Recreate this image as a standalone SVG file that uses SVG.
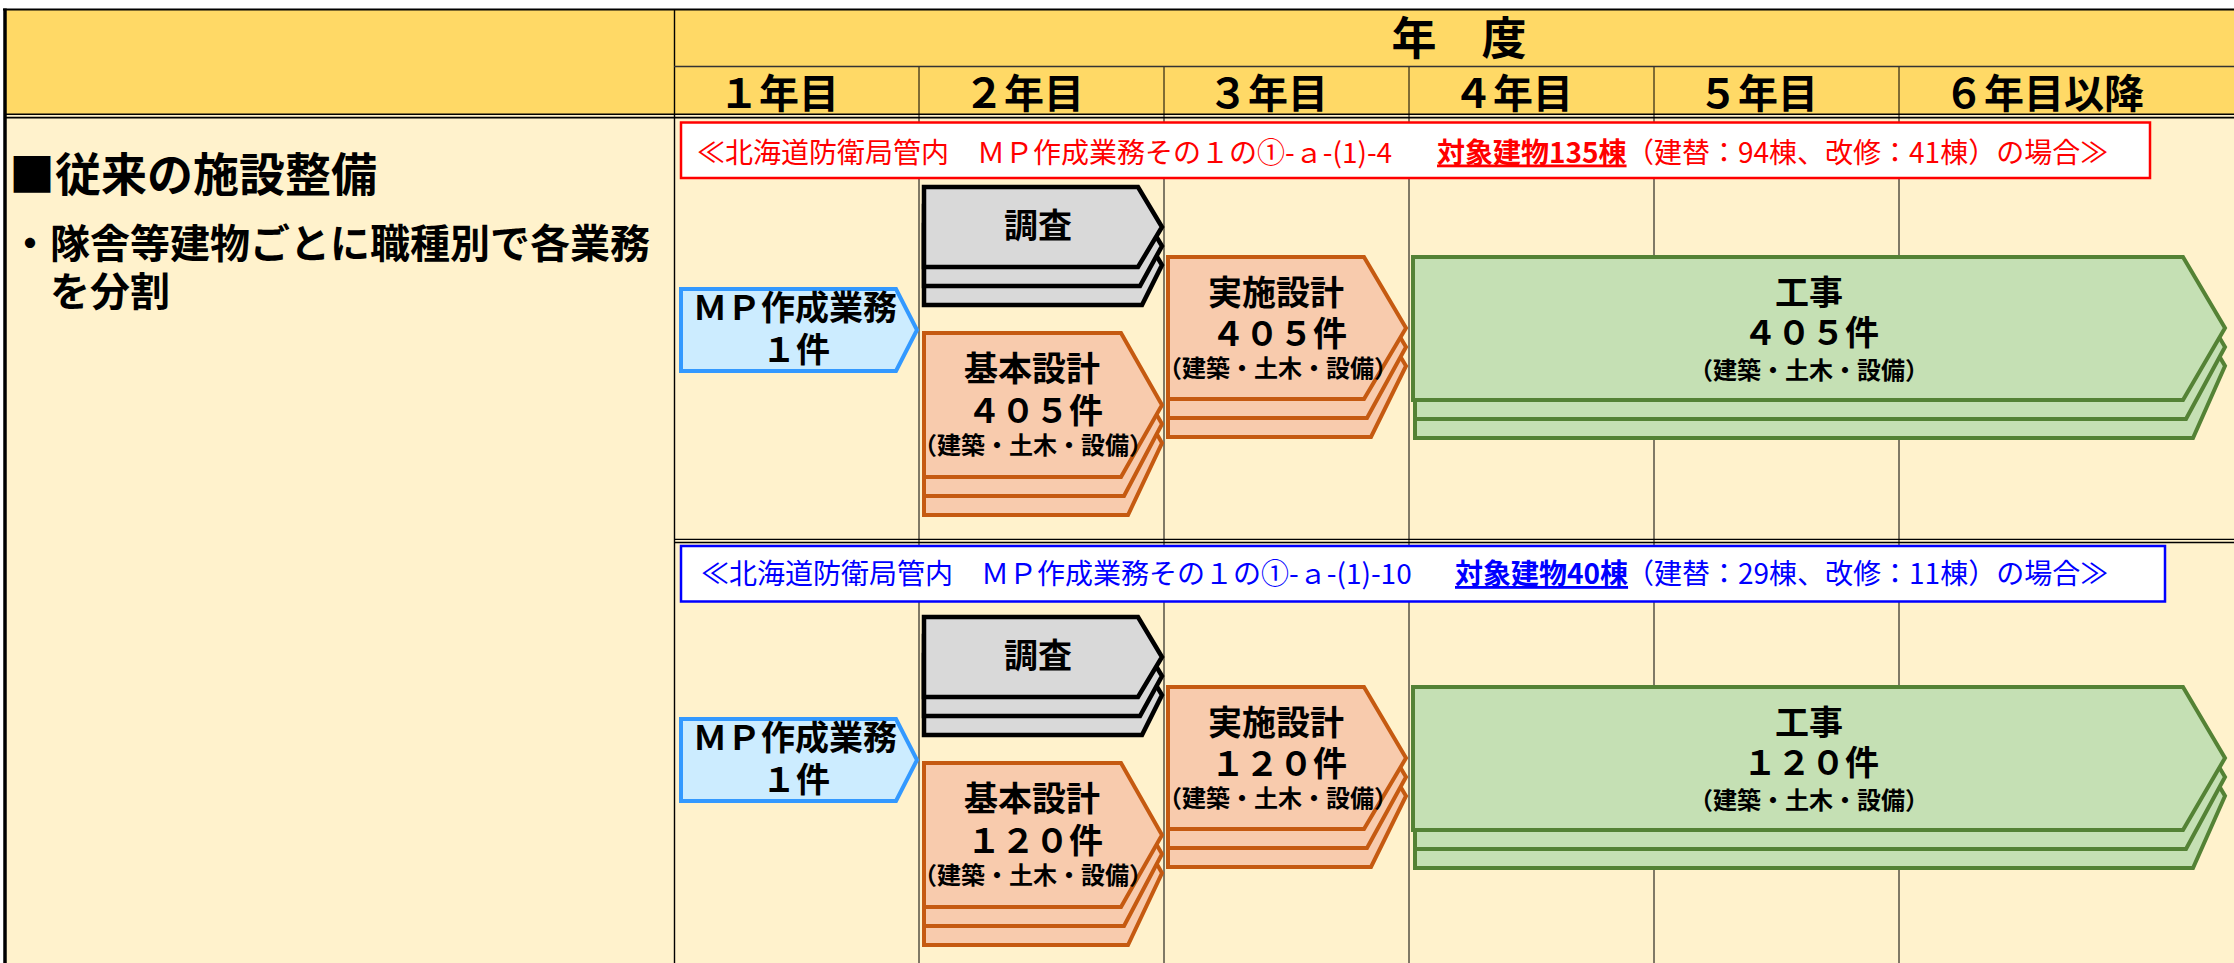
<svg xmlns="http://www.w3.org/2000/svg" width="2234" height="963" viewBox="0 0 2234 963">
<style>
.jp{font-family:"Noto Sans CJK JP","Noto Sans CJK SC",sans-serif;}
.b{font-weight:700;fill:#000;}
.lbl{font-size:34px;text-anchor:middle;}
.sub{font-size:24px;text-anchor:middle;}
.yr{font-size:40px;text-anchor:middle;}
.grid{stroke:#000;stroke-width:1;fill:none;}
.blue{fill:#CCECFF;stroke:#3399FF;stroke-width:4;stroke-linejoin:miter;}
.gray{fill:#D9D9D9;stroke:#000;stroke-width:4.5;}
.org{fill:#F8CBAD;stroke:#C55A11;stroke-width:4;}
.grn{fill:#C5E0B4;stroke:#548235;stroke-width:4;}
.note{font-size:28px;font-weight:400;}
</style>
<g id="background">
<rect x="5" y="10" width="2229" height="104" fill="#FFD966"/>
<rect x="5" y="114" width="2229" height="849" fill="#FFF2CC"/>
</g>
<g id="grid">
<line class="grid" x1="919" y1="66" x2="919" y2="963"/>
<line class="grid" x1="1164" y1="66" x2="1164" y2="963"/>
<line class="grid" x1="1409" y1="66" x2="1409" y2="963"/>
<line class="grid" x1="1654" y1="66" x2="1654" y2="963"/>
<line class="grid" x1="1899" y1="66" x2="1899" y2="963"/>
<line x1="674.5" y1="9" x2="674.5" y2="963" stroke="#000" stroke-width="1.4"/>
<line x1="674" y1="66.5" x2="2234" y2="66.5" stroke="#333" stroke-width="1.5"/>
<line x1="3" y1="9.5" x2="2234" y2="9.5" stroke="#000" stroke-width="2.2"/>
<line x1="5" y1="8.5" x2="5" y2="963" stroke="#000" stroke-width="3.5"/>
<line x1="5" y1="114.3" x2="2234" y2="114.3" stroke="#000" stroke-width="1.6"/>
<line x1="5" y1="117.6" x2="2234" y2="117.6" stroke="#000" stroke-width="1.6"/>
<line x1="674" y1="539.4" x2="2234" y2="539.4" stroke="#000" stroke-width="1.4"/>
<line x1="674" y1="542.5" x2="2234" y2="542.5" stroke="#000" stroke-width="1.4"/>
</g>
<g id="header">
<text class="jp b" x="1459" y="55" font-size="45" text-anchor="middle">年　度</text>
<text class="jp b yr" x="779" y="107.5">１年目</text>
<text class="jp b yr" x="1024" y="107.5">２年目</text>
<text class="jp b yr" x="1268" y="107.5">３年目</text>
<text class="jp b yr" x="1513" y="107.5">４年目</text>
<text class="jp b yr" x="1758" y="107.5">５年目</text>
<text class="jp b yr" x="2044" y="107.5">６年目以降</text>
</g>
<g id="left-panel">
<text class="jp b" x="9" y="190.8" font-size="46">■従来の施設整備</text>
<text class="jp b" x="10" y="257.7" font-size="40">・隊舎等建物ごとに職種別で各業務</text>
<text class="jp b" x="50" y="306" font-size="40">を分割</text>
</g>
<g id="case1-title">
<rect x="681" y="122.5" width="1469" height="55.5" fill="#FFFFFF" stroke="#FF0000" stroke-width="2.5"/>
<text class="jp note" y="162.5" fill="#FF0000"><tspan x="697">≪北海道防衛局管内　ＭＰ作成業務その１の①-ａ-(1)-4</tspan><tspan x="1437" font-weight="700" text-decoration="underline">対象建物135棟</tspan><tspan x="1626">（建替：94棟、改修：41棟）の場合≫</tspan></text>
</g>
<g id="case1-mp">
<polygon class="blue" points="681,289 896,289 917,330 896,371 681,371"/>
<text class="jp b lbl" x="795" y="320">ＭＰ作成業務</text>
<text class="jp b lbl" x="796" y="362">１件</text>
</g>
<g id="case1-survey">
<polygon class="gray" points="924,225 1138,225 1162,265 1142,305 924,305"/>
<polygon class="gray" points="924,206 1138,206 1162,246 1140,286 924,286"/>
<polygon class="gray" points="924,187 1138,187 1162,227 1138,267 924,267"/>
<text class="jp b lbl" x="1038" y="238">調査</text>
</g>
<g id="case1-basic">
<polygon class="org" points="924,371 1121,371 1162,443 1128,515 924,515"/>
<polygon class="org" points="924,352 1121,352 1162,424 1124,496 924,496"/>
<polygon class="org" points="924,333 1121,333 1162,405 1121,477 924,477"/>
<text class="jp b lbl" x="1032" y="381">基本設計</text>
<text class="jp b lbl" x="1035" y="423">４０５件</text>
<text class="jp b sub" x="1033" y="454">（建築・土木・設備）</text>
</g>
<g id="case1-detail">
<polygon class="org" points="1168,295 1364,295 1406,366 1371,437 1168,437"/>
<polygon class="org" points="1168,276 1364,276 1406,347 1367,418 1168,418"/>
<polygon class="org" points="1168,257 1364,257 1406,328 1364,399 1168,399"/>
<text class="jp b lbl" x="1276" y="305">実施設計</text>
<text class="jp b lbl" x="1279" y="346">４０５件</text>
<text class="jp b sub" x="1278" y="377">（建築・土木・設備）</text>
</g>
<g id="case1-construction">
<polygon class="grn" points="1415,295 2183,295 2225,366 2193,438 1415,438"/>
<polygon class="grn" points="1415,276 2183,276 2225,347 2186,419 1415,419"/>
<polygon class="grn" points="1413,257 2183,257 2225,328 2183,400 1413,400"/>
<text class="jp b lbl" x="1809" y="305">工事</text>
<text class="jp b lbl" x="1811" y="345">４０５件</text>
<text class="jp b sub" x="1809" y="379">（建築・土木・設備）</text>
</g>
<g id="case2-title">
<rect x="681" y="546" width="1484" height="55.5" fill="#FFFFFF" stroke="#0000FF" stroke-width="2.5"/>
<text class="jp note" y="584" fill="#0000FF"><tspan x="701">≪北海道防衛局管内　ＭＰ作成業務その１の①-ａ-(1)-10</tspan><tspan x="1455" font-weight="700" text-decoration="underline">対象建物40棟</tspan><tspan x="1626">（建替：29棟、改修：11棟）の場合≫</tspan></text>
</g>
<g id="case2-mp">
<polygon class="blue" points="681,719 896,719 917,760 896,801 681,801"/>
<text class="jp b lbl" x="795" y="750">ＭＰ作成業務</text>
<text class="jp b lbl" x="796" y="792">１件</text>
</g>
<g id="case2-survey">
<polygon class="gray" points="924,655 1138,655 1162,695 1142,735 924,735"/>
<polygon class="gray" points="924,636 1138,636 1162,676 1140,716 924,716"/>
<polygon class="gray" points="924,617 1138,617 1162,657 1138,697 924,697"/>
<text class="jp b lbl" x="1038" y="668">調査</text>
</g>
<g id="case2-basic">
<polygon class="org" points="924,801 1121,801 1162,873 1128,945 924,945"/>
<polygon class="org" points="924,782 1121,782 1162,854 1124,926 924,926"/>
<polygon class="org" points="924,763 1121,763 1162,835 1121,907 924,907"/>
<text class="jp b lbl" x="1032" y="811">基本設計</text>
<text class="jp b lbl" x="1035" y="853">１２０件</text>
<text class="jp b sub" x="1033" y="884">（建築・土木・設備）</text>
</g>
<g id="case2-detail">
<polygon class="org" points="1168,725 1364,725 1406,796 1371,867 1168,867"/>
<polygon class="org" points="1168,706 1364,706 1406,777 1367,848 1168,848"/>
<polygon class="org" points="1168,687 1364,687 1406,758 1364,829 1168,829"/>
<text class="jp b lbl" x="1276" y="735">実施設計</text>
<text class="jp b lbl" x="1279" y="776">１２０件</text>
<text class="jp b sub" x="1278" y="807">（建築・土木・設備）</text>
</g>
<g id="case2-construction">
<polygon class="grn" points="1415,725 2183,725 2225,796 2193,868 1415,868"/>
<polygon class="grn" points="1415,706 2183,706 2225,777 2186,849 1415,849"/>
<polygon class="grn" points="1413,687 2183,687 2225,758 2183,830 1413,830"/>
<text class="jp b lbl" x="1809" y="735">工事</text>
<text class="jp b lbl" x="1811" y="775">１２０件</text>
<text class="jp b sub" x="1809" y="809">（建築・土木・設備）</text>
</g>
<g id="connectors"/>
</svg>
